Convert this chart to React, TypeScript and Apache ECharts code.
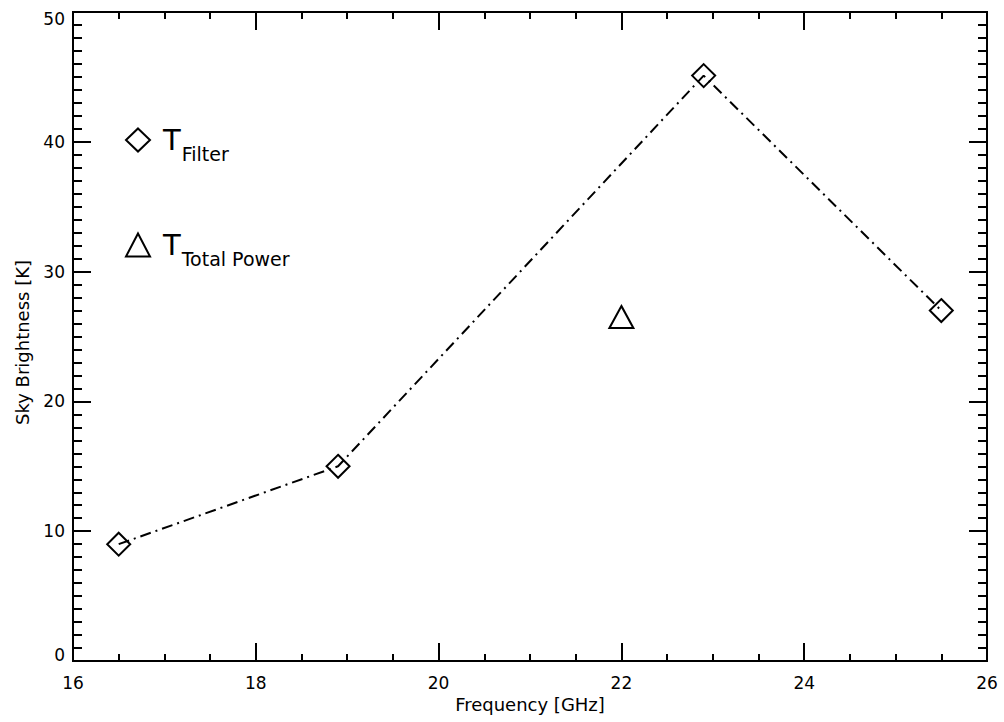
import React, { useEffect, useRef } from "react";
import * as echarts from "echarts";

const filterFreq = [16.5, 18.9, 22.9, 25.5];
const filterTemp = [9, 15, 45.1, 27];
const totalPowerFreq = [22];
const totalPowerTemp = [26.5];
const legendNames = ["Filter", "Total Power"];
const xTitle = "Frequency [GHz]";
const yTitle = "Sky Brightness [K]";

const FONT = "DejaVu Sans";

export default function App() {
  const ref = useRef<HTMLDivElement>(null);
  useEffect(() => {
    if (!ref.current) return;
    const chart = echarts.init(ref.current, undefined, { renderer: "svg" });
    const tickStyle = { color: "#000", width: 2 };
    const line = { show: true, onZero: false, lineStyle: { color: "#000", width: 2 } };
    const xMajor = {
      type: "value" as const,
      min: 16,
      max: 26,
      interval: 2,
      axisLine: line,
      axisTick: { show: true, inside: true, length: 18, lineStyle: tickStyle },
      splitLine: { show: false },
    };
    const xMinor = {
      type: "value" as const,
      min: 16,
      max: 26,
      interval: 0.5,
      axisLine: line,
      axisTick: { show: true, inside: true, length: 7, lineStyle: tickStyle },
      axisLabel: { show: false },
      splitLine: { show: false },
    };
    const yMajor = {
      type: "value" as const,
      min: 0,
      max: 50,
      interval: 10,
      axisLine: line,
      axisTick: { show: true, inside: true, length: 18, lineStyle: tickStyle },
      splitLine: { show: false },
    };
    const yMinor = {
      type: "value" as const,
      min: 0,
      max: 50,
      interval: 1,
      axisLine: line,
      axisTick: { show: true, inside: true, length: 9, lineStyle: tickStyle },
      axisLabel: { show: false },
      splitLine: { show: false },
    };
    chart.setOption({
      animation: false,
      backgroundColor: "#fff",
      grid: { left: 73, right: 17, top: 12, bottom: 61 },
      xAxis: [
        {
          ...xMajor,
          position: "bottom",
          name: xTitle,
          nameLocation: "middle",
          nameGap: 34,
          nameTextStyle: { fontFamily: FONT, fontSize: 18, color: "#000" },
          axisLabel: { show: true, margin: 13, fontFamily: FONT, fontSize: 17, color: "#000" },
        },
        { ...xMajor, position: "top", axisLabel: { show: false } },
        { ...xMinor, position: "bottom" },
        { ...xMinor, position: "top" },
      ],
      yAxis: [
        {
          ...yMajor,
          position: "left",
          name: yTitle,
          nameLocation: "middle",
          nameGap: 42,
          nameTextStyle: { fontFamily: FONT, fontSize: 18, color: "#000", padding: [0, 12, 0, 0] },
          axisLabel: {
            show: true,
            margin: 8,
            fontFamily: FONT,
            fontSize: 17,
            color: "#000",
            formatter: (v: number) => (v === 50 ? "{top|50}" : v === 0 ? "{bot|0}" : String(v)),
            rich: {
              top: { fontFamily: FONT, fontSize: 17, color: "#000", padding: [13, 0, 0, 0] },
              bot: { fontFamily: FONT, fontSize: 17, color: "#000", padding: [0, 0, 12, 0] },
            },
          },
        },
        { ...yMajor, position: "right", axisLabel: { show: false } },
        { ...yMinor, position: "left" },
        { ...yMinor, position: "right" },
      ],
      legend: {
        orient: "vertical",
        left: 125,
        top: 125,
        padding: 0,
        itemGap: 67,
        itemWidth: 24,
        itemHeight: 23,
        selectedMode: false,
        itemStyle: { color: "rgba(0,0,0,0)", borderColor: "#000", borderWidth: 2 },
        data: [
          { name: legendNames[0], icon: "diamond" },
          { name: legendNames[1], icon: "triangle" },
        ],
        formatter: (name: string) => `{t|T}{s|${name}}`,
        textStyle: {
          rich: {
            t: { fontFamily: FONT, fontSize: 29, lineHeight: 30, color: "#000", verticalAlign: "top", padding: [0, 0, 0, 8] },
            s: { fontFamily: FONT, fontSize: 19, lineHeight: 19, color: "#000", verticalAlign: "top", padding: [19, 0, 0, 1] },
          },
        },
      },
      series: [
        {
          name: legendNames[0],
          type: "line",
          xAxisIndex: 0,
          yAxisIndex: 0,
          data: filterFreq.map((f, i) => [f, filterTemp[i]]),
          symbol: "diamond",
          symbolSize: [23, 23],
          itemStyle: { color: "rgba(0,0,0,0)", borderColor: "#000", borderWidth: 2 },
          lineStyle: { color: "#000", width: 2, type: [11, 5, 2, 5] },
        },
        {
          name: legendNames[1],
          type: "scatter",
          xAxisIndex: 0,
          yAxisIndex: 0,
          data: totalPowerFreq.map((f, i) => [f, totalPowerTemp[i]]),
          symbol: "triangle",
          symbolSize: [24, 22],
          itemStyle: { color: "rgba(0,0,0,0)", borderColor: "#000", borderWidth: 2, opacity: 1 },
        },
      ],
    });
    return () => chart.dispose();
  }, []);
  return (
    <div
      ref={ref}
      style={{ position: "fixed", left: 0, top: 0, width: 1004, height: 722, background: "#fff" }}
    />
  );
}
